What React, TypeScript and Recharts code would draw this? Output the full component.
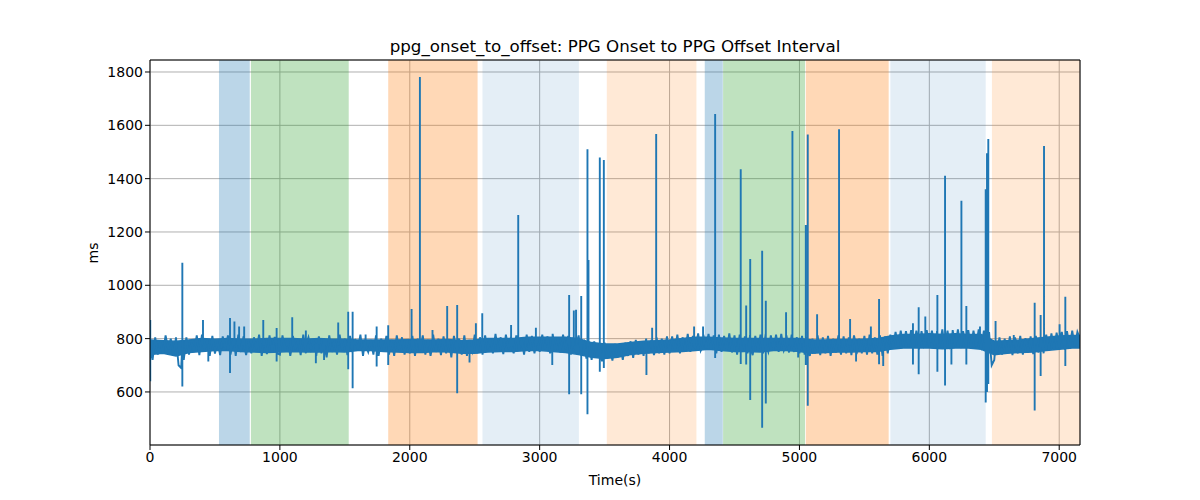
import React from 'react';
import { ComposedChart, Line, Area, XAxis, YAxis, CartesianGrid, ReferenceArea, ReferenceLine } from 'recharts';

// background signal, one sample every 20 s
const NOISE_STEP = 20;

const noise0 = [
  735, 720, 805, 740, 790, 745, 812, 760, 800, 735, 805, 700, 690, 720, 805, 740, 785, 750, 812, 738,
  815, 760, 795, 735, 810, 744, 790, 738, 808, 760, 812, 740, 795, 735, 815, 750, 808, 738, 790, 745,
  805, 760, 815, 735, 795, 742, 812, 750, 806, 745,
];
const noise1 = [
  740, 812, 755, 800, 735, 810, 760, 795, 738, 815, 745, 805, 760, 790, 735, 808, 745, 800, 730, 812,
  750, 795, 740, 815, 755, 800, 738, 810, 745, 792, 760, 815, 735, 805, 750, 795, 740, 812, 735, 800,
  755, 810, 740, 795, 735, 812, 750, 805, 740, 795,
];
const noise2 = [
  745, 810, 735, 800, 760, 812, 740, 795, 735, 815, 750, 800, 738, 808, 745, 795, 730, 810, 755, 800,
  740, 812, 735, 795, 750, 815, 745, 805, 740, 812, 760, 800, 745, 818, 750, 805, 742, 815, 760, 808,
  745, 812, 755, 800, 740, 815, 750, 810, 745, 805,
];
const noise3 = [
  750, 815, 760, 808, 745, 818, 755, 805, 748, 815, 760, 810, 740, 805, 750, 812, 735, 790, 725, 780,
  720, 790, 730, 775, 715, 785, 725, 770, 718, 780, 730, 775, 720, 785, 735, 790, 728, 795, 740, 790,
  735, 800, 745, 795, 738, 805, 745, 800, 740, 808,
];
const noise4 = [
  745, 808, 752, 815, 745, 805, 755, 818, 750, 810, 760, 820, 755, 815, 765, 818, 760, 812, 745, 815,
  750, 810, 755, 820, 748, 812, 740, 815, 750, 808, 745, 812, 738, 810, 752, 815, 745, 818, 750, 812,
  758, 815, 750, 818, 755, 812, 748, 815, 750, 805,
];
const noise5 = [
  745, 810, 740, 805, 735, 800, 745, 812, 738, 805, 745, 810, 735, 800, 748, 812, 740, 808, 745, 805,
  738, 812, 742, 800, 745, 810, 740, 815, 745, 805, 740, 812, 735, 808, 745, 815, 765, 825, 770, 830,
  765, 828, 772, 832, 765, 830, 760, 828, 770, 832,
];
const noise6 = [
  768, 830, 765, 828, 772, 835, 760, 830, 768, 832, 770, 835, 765, 828, 772, 832, 765, 830, 770, 835,
  765, 830, 760, 825, 700, 720, 745, 805, 740, 800, 745, 808, 738, 805, 745, 810, 740, 802, 748, 808,
  742, 810, 748, 805, 745, 815, 755, 820, 760, 822,
];
const noise7 = [765, 825, 768, 828, 762, 830, 770, 825, 800];

// dense core of the trace, low / high edge every 100 s
const BAND_STEP = 100;
const bandLow = [
  740, 745, 735, 748, 752, 755, 755, 752, 750, 748, 750, 752, 750, 750, 752, 750, 755, 755, 752, 750,
  748, 748, 752, 750, 745, 745, 750, 752, 752, 755, 755, 752, 748, 740, 730, 725, 730, 740, 745, 748,
  750, 752, 755, 760, 755, 752, 752, 750, 755, 755, 752, 745, 748, 750, 750, 752, 752, 760, 765, 765,
  765, 762, 765, 765, 760, 740, 745, 748, 750, 755, 760, 765, 765,
];
const bandHigh = [
  795, 792, 790, 795, 800, 798, 800, 798, 798, 800, 800, 800, 798, 800, 798, 798, 795, 795, 795, 795,
  797, 795, 795, 797, 792, 795, 800, 800, 800, 805, 805, 805, 805, 800, 785, 780, 780, 785, 790, 792,
  795, 800, 805, 805, 802, 800, 800, 800, 800, 800, 800, 795, 795, 797, 797, 798, 800, 810, 815, 815,
  818, 815, 818, 815, 815, 790, 792, 795, 800, 805, 810, 812, 812,
];

// isolated spikes: time, top, bottom
const spikeTime = [
  2, 249, 408, 449, 616, 650, 686, 725, 872, 975, 1095, 1200, 1277, 1340, 1449, 1526, 1560, 1660, 1745, 1834,
  2014, 2078, 2175, 2288, 2365, 2460, 2509, 2558, 2780, 2835, 2971, 3097, 3227, 3263, 3280, 3320, 3368, 3376, 3463, 3494,
  3822, 3866, 3897, 4189, 4258, 4351, 4548, 4590, 4621, 4713, 4741, 4897, 4946, 4990, 5049, 5064, 5136, 5305, 5390, 5436,
  5550, 5613, 5645, 5874, 5918, 5969, 6062, 6121, 6170, 6247, 6285, 6390, 6434, 6444, 6454, 6510, 6650, 6811, 6857, 6883,
  7003, 7047,
];
const spikeHigh = [
  870, 1085, 870, 780, 877, 864, 845, 845, 870, 840, 880, 830, 780, 780, 860, 901, 901, 815, 845, 850,
  911, 1781, 832, 922, 926, 780, 858, 895, 851, 1264, 841, 780, 964, 905, 908, 960, 1510, 1095, 1479, 1470,
  780, 841, 1567, 845, 845, 1642, 1435, 924, 1099, 1130, 942, 899, 1579, 780, 1226, 1566, 891, 1585, 874, 780,
  845, 949, 780, 858, 918, 883, 964, 1411, 780, 1317, 922, 845, 1360, 1495, 1549, 866, 814, 935, 889, 1522,
  854, 957,
];
const spikeLow = [
  640, 620, 775, 714, 671, 775, 775, 775, 775, 714, 775, 775, 708, 720, 775, 685, 614, 775, 695, 701,
  775, 750, 775, 775, 595, 710, 775, 775, 775, 775, 775, 701, 591, 775, 775, 591, 516, 775, 676, 690,
  664, 775, 775, 775, 775, 727, 705, 703, 570, 466, 557, 775, 775, 729, 701, 548, 775, 775, 775, 714,
  775, 704, 697, 703, 666, 775, 676, 624, 703, 775, 703, 775, 560, 600, 630, 775, 775, 530, 660, 775,
  775, 697,
];
const SPIKE_BASE = 775;

// shaded segments (seconds)
const spanStart = [531, 777, 1834, 2560, 3517, 4271, 4412, 5049, 5700, 6482];
const spanEnd = [768, 1530, 2522, 3302, 4207, 4410, 5043, 5687, 6434, 7160];
const spanKind = ['blue', 'green', 'orange', 'blueLight', 'orangeLight', 'blue', 'green', 'orange', 'blueLight', 'orangeLight'];

const xTicks = [0, 1000, 2000, 3000, 4000, 5000, 6000, 7000];
const yTicks = [600, 800, 1000, 1200, 1400, 1600, 1800];

const X_MAX = 7160;
const Y_MIN = 401;
const Y_MAX = 1845;

type Row = { t: number; ms?: number; band?: [number, number] };

const noise = [...noise0, ...noise1, ...noise2, ...noise3, ...noise4, ...noise5, ...noise6, ...noise7];
const rows: Row[] = [];
noise.forEach((v, i) => rows.push({ t: i * NOISE_STEP, ms: v }));
bandLow.forEach((lo, i) => rows.push({ t: i * BAND_STEP, band: [lo, bandHigh[i]] }));
spikeTime.forEach((t, i) => {
  rows.push({ t, ms: SPIKE_BASE });
  rows.push({ t, ms: spikeHigh[i] });
  rows.push({ t, ms: spikeLow[i] });
  rows.push({ t, ms: SPIKE_BASE });
});
const data = rows.map((r, i) => ({ ...r, k: i })).sort((a, b) => a.t - b.t || a.k - b.k);

const spanStyle: Record<string, { fill: string; opacity: number }> = {
  blue: { fill: '#1f77b4', opacity: 0.3 },
  blueLight: { fill: '#1f77b4', opacity: 0.12 },
  green: { fill: '#2ca02c', opacity: 0.3 },
  orange: { fill: '#ff7f0e', opacity: 0.3 },
  orangeLight: { fill: '#ff7f0e', opacity: 0.17 },
};

const FONT = '"DejaVu Sans", sans-serif';
const tickStyle = { fill: '#000', fontSize: 14, fontFamily: FONT };

export default function App() {
  return (
    <div style={{ position: 'absolute', left: 0, top: 0, width: 1200, height: 500, background: '#fff', fontFamily: FONT }}>
      <div style={{ position: 'absolute', left: 150, width: 930, top: 36, textAlign: 'center', fontSize: 16.7, color: '#000' }}>
        ppg_onset_to_offset: PPG Onset to PPG Offset Interval
      </div>
      <div
        style={{
          position: 'absolute',
          left: 93,
          top: 253,
          transform: 'translate(-50%, -50%) rotate(-90deg)',
          fontSize: 14,
          color: '#000',
        }}
      >
        ms
      </div>
      <div style={{ position: 'absolute', left: 150, width: 930, top: 472, textAlign: 'center', fontSize: 14, color: '#000' }}>
        Time(s)
      </div>
      <ComposedChart width={1200} height={500} data={data} margin={{ top: 60, right: 120, bottom: 0, left: 0 }}>
        {spanStart.map((s, i) => (
          <ReferenceArea
            key={`span-${i}`}
            x1={s}
            x2={spanEnd[i]}
            fill={spanStyle[spanKind[i]].fill}
            fillOpacity={spanStyle[spanKind[i]].opacity}
            stroke="none"
            ifOverflow="hidden"
          />
        ))}
        <CartesianGrid stroke="#b0b0b0" strokeWidth={1} />
        <XAxis
          dataKey="t"
          type="number"
          domain={[0, X_MAX]}
          ticks={xTicks}
          height={55}
          tick={tickStyle}
          tickSize={5}
          tickLine={{ stroke: '#000' }}
          axisLine={{ stroke: '#000' }}
          allowDataOverflow
        />
        <YAxis
          type="number"
          domain={[Y_MIN, Y_MAX]}
          ticks={yTicks}
          width={150}
          tick={tickStyle}
          tickSize={5}
          tickLine={{ stroke: '#000' }}
          axisLine={{ stroke: '#000' }}
          allowDataOverflow
        />
        <Area
          type="linear"
          dataKey="band"
          stroke="#1f77b4"
          strokeWidth={1.5}
          fill="#1f77b4"
          fillOpacity={1}
          connectNulls
          dot={false}
          activeDot={false}
          isAnimationActive={false}
        />
        <Line
          type="linear"
          dataKey="ms"
          stroke="#1f77b4"
          strokeWidth={1.9}
          dot={false}
          activeDot={false}
          connectNulls
          isAnimationActive={false}
        />
        <ReferenceLine y={Y_MAX} stroke="#000" />
        <ReferenceLine x={X_MAX} stroke="#000" />
      </ComposedChart>
    </div>
  );
}
